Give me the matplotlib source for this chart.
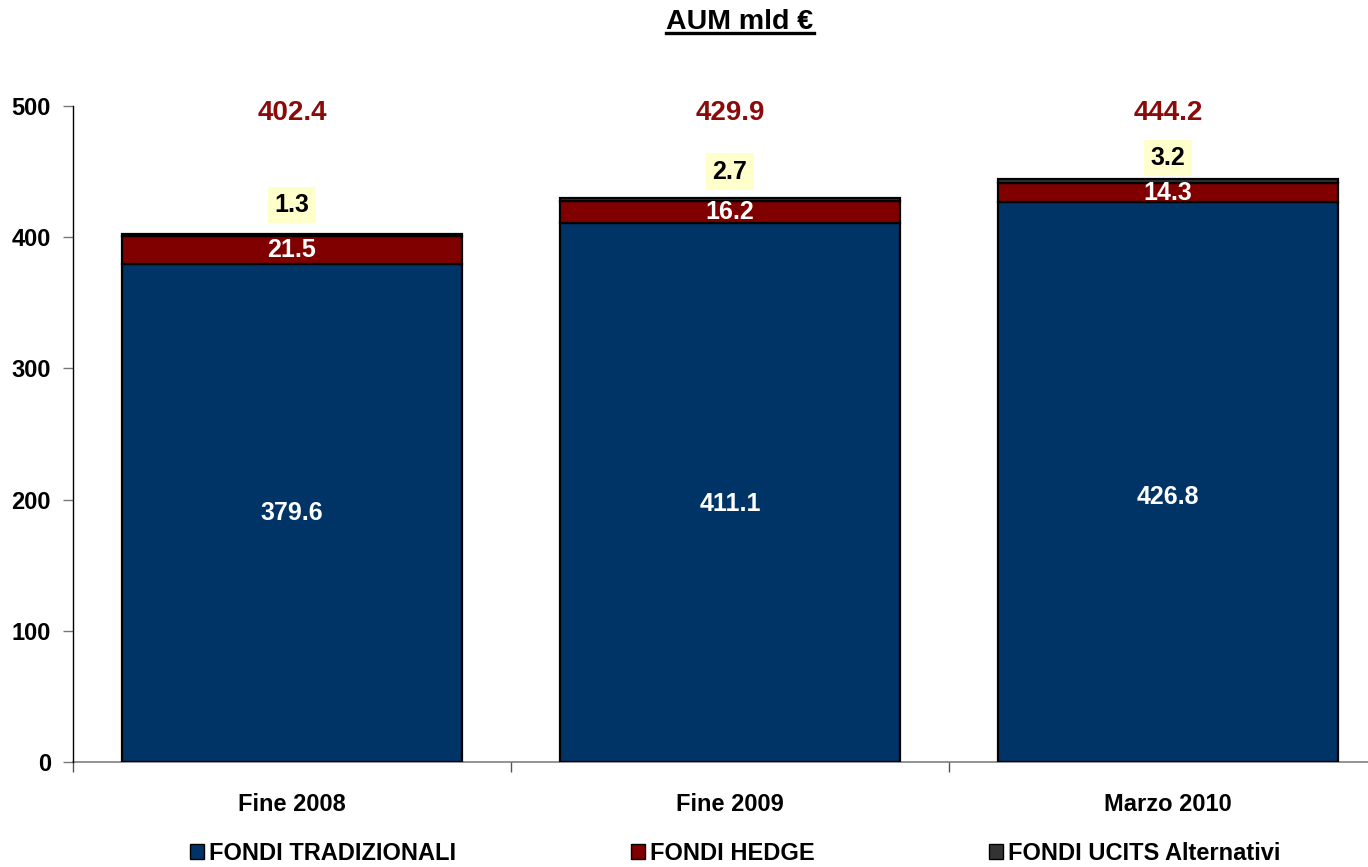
import matplotlib

matplotlib.use("Agg")
import matplotlib.pyplot as plt
from matplotlib.lines import Line2D
from matplotlib.patches import Patch
import numpy as np

plt.rcParams["font.family"] = ["Liberation Sans", "DejaVu Sans"]
plt.rcParams["font.weight"] = "bold"

periods = ["Fine 2008", "Fine 2009", "Marzo 2010"]
tradizionali = [379.6, 411.1, 426.8]
hedge = [21.5, 16.2, 14.3]
ucits = [1.3, 2.7, 3.2]
totals = [402.4, 429.9, 444.2]
series_names = ["FONDI TRADIZIONALI", "FONDI HEDGE", "FONDI UCITS Alternativi"]

BLUE = "#003366"
RED = "#800000"
GREY = "#333333"
TOTAL_COLOR = "#8B0A0A"

W, H = 1368, 867
fig = plt.figure(figsize=(W / 100, H / 100), dpi=100)
# axes run past the right edge, as in the original sheet
ax = fig.add_axes([73 / W, 1 - 762 / H, (1387 - 73) / W, (762 - 106) / H])

x = np.arange(len(periods))
bw = 0.774
edge = dict(edgecolor="black", linewidth=1.6)
ax.bar(x, tradizionali, bw, color=BLUE, **edge)
ax.bar(x, hedge, bw, bottom=tradizionali, color=RED, **edge)
bottom3 = np.add(tradizionali, hedge)
ax.bar(x, ucits, bw, bottom=bottom3, color=GREY, **edge)

ax.set_xlim(-0.5, 2.5)
ax.set_ylim(0, 500)
ax.set_yticks([0, 100, 200, 300, 400, 500])
ax.set_xticks([-0.5, 0.5, 1.5])
ax.set_xticklabels([])
ax.set_xticks(x, minor=True)
ax.set_xticklabels(periods, minor=True, fontsize=17, fontweight="bold")
ax.tick_params(axis="x", which="minor", length=0, pad=22)
ax.tick_params(axis="x", which="major", direction="out", length=7, width=1, color="#555555")
ax.tick_params(axis="y", direction="out", length=7, width=1, color="#777777",
               labelsize=17, pad=9)
for lbl in ax.get_yticklabels():
    lbl.set_fontweight("bold")

for s in ("top", "right"):
    ax.spines[s].set_visible(False)
ax.spines["left"].set_color("black")
ax.spines["left"].set_linewidth(1)
ax.spines["bottom"].set_color("#808080")
ax.spines["bottom"].set_linewidth(1.2)
ax.spines["bottom"].set_zorder(0)

# value labels
blue_label_y = [190, 197, 202]
ucits_label_off = [22, 20, 16]
for i in range(len(periods)):
    ax.text(x[i], blue_label_y[i], f"{tradizionali[i]:.1f}", ha="center", va="center",
            color="white", fontsize=18, fontweight="bold")
    ax.text(x[i], tradizionali[i] + hedge[i] / 2, f"{hedge[i]:.1f}", ha="center",
            va="center", color="white", fontsize=18, fontweight="bold")
    ax.text(x[i], totals[i] + ucits_label_off[i], f"{ucits[i]:.1f}", ha="center",
            va="center", color="black", fontsize=18, fontweight="bold",
            bbox=dict(boxstyle="square,pad=0.25", facecolor="#FFFFCC", edgecolor="none"))
    ax.text(x[i], 495, f"{totals[i]:.1f}", ha="center", va="center",
            color=TOTAL_COLOR, fontsize=20, fontweight="bold")

# underlined title
title = fig.text(740 / W, 1 - 22 / H, "AUM mld €", ha="center", va="center",
                 fontsize=20.5, fontweight="bold")
fig.canvas.draw()
bb = title.get_window_extent().transformed(fig.transFigure.inverted())
uy = bb.y0 + 0.08 * (bb.y1 - bb.y0)
fig.add_artist(Line2D([bb.x0, bb.x1], [uy, uy], transform=fig.transFigure,
                      color="black", linewidth=2.4))

handles = [Patch(facecolor=c, edgecolor="black", linewidth=1.0) for c in (BLUE, RED, GREY)]
fig.legend(handles, series_names, loc="center", bbox_to_anchor=(735 / W, 1 - 853 / H),
           ncol=3, frameon=False, handlelength=0.6, handleheight=0.6,
           handletextpad=0.2, columnspacing=7.4, prop=dict(weight="bold", size=17))

fig.savefig("out.png", dpi=100)
